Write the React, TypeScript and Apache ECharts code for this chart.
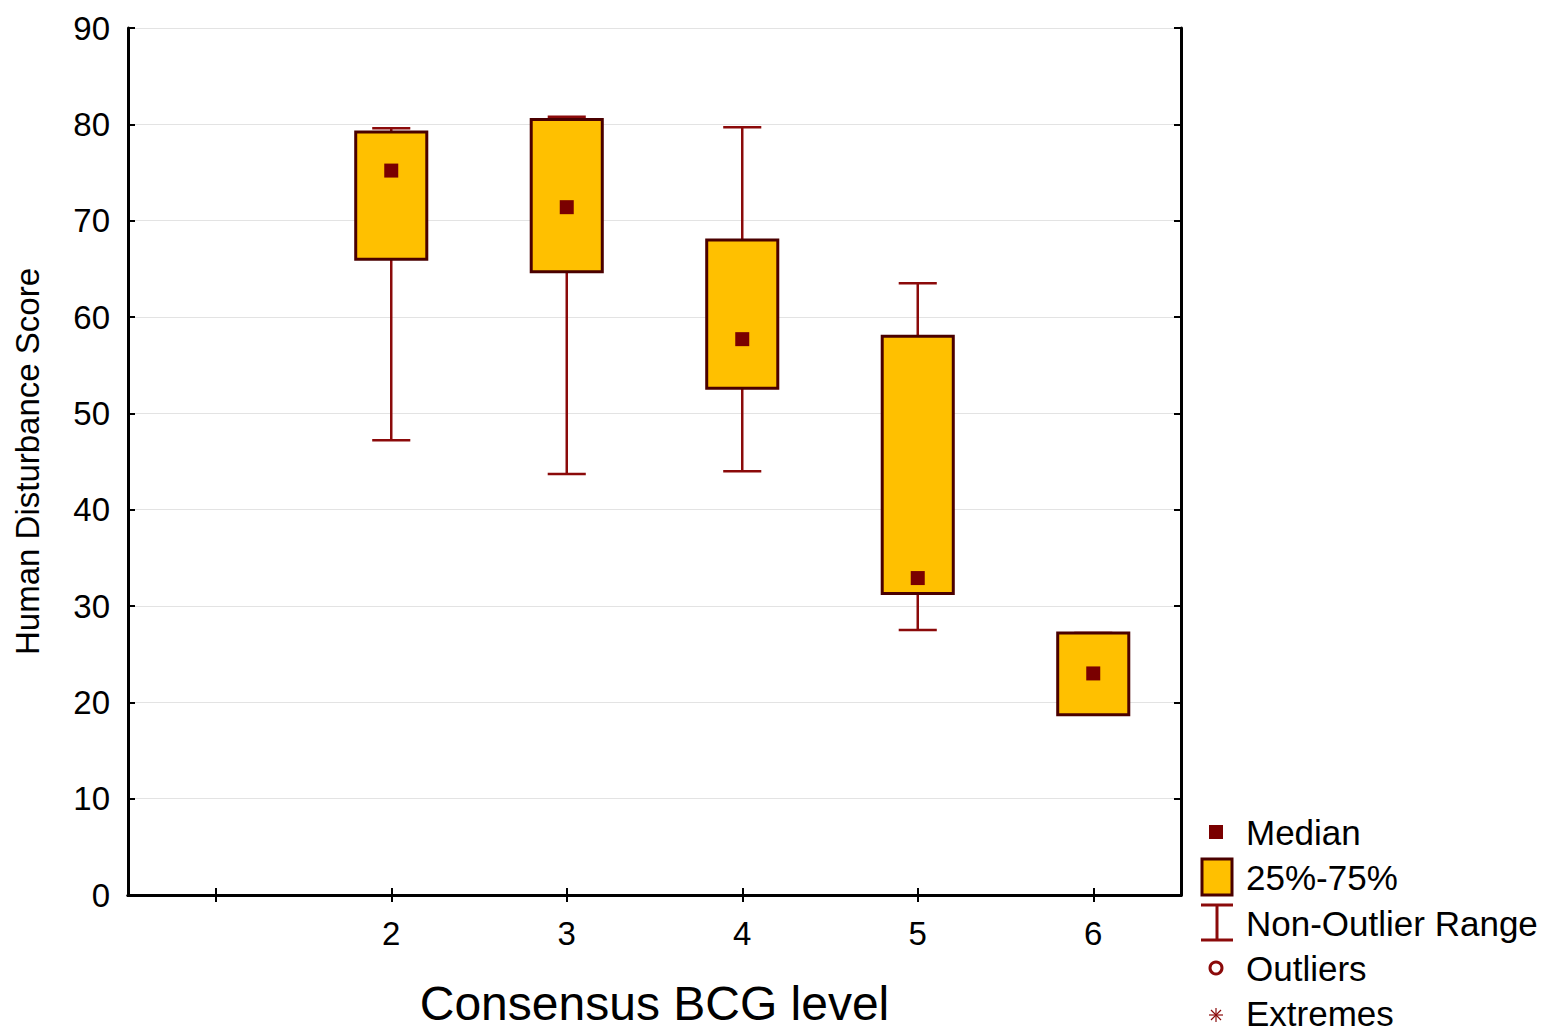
import React, { useEffect, useRef } from "react";
import * as echarts from "echarts";

const categories = ["", "2", "3", "4", "5", "6"];
const boxCategoryIndex = [1, 2, 3, 4, 5];
const whiskerLow = [47.2, 43.7, 44.0, 27.5, 18.7];
const quartile1 = [66.0, 64.7, 52.6, 31.3, 18.7];
const medians = [75.2, 71.4, 57.7, 32.9, 23.0];
const quartile3 = [79.2, 80.5, 68.0, 58.0, 27.2];
const whiskerHigh = [79.6, 80.8, 79.7, 63.5, 27.2];
const yTicks = { min: 0, max: 90, interval: 10 };
const legendLabels = ["Median", "25%-75%", "Non-Outlier Range", "Outliers", "Extremes"];

const FONT = "'Liberation Sans', Arial, Helvetica, sans-serif";
const BOX_FILL = "#FFC000";
const BOX_STROKE = "#4A0000";
const WHISKER = "#8B0A0A";
const MEDIAN = "#7A0000";

export default function App() {
  const ref = useRef<HTMLDivElement>(null);
  useEffect(() => {
    document.body.style.margin = "0";
    const chart = echarts.init(ref.current!, null, { renderer: "svg" });
    const data = boxCategoryIndex.map((c, i) => [
      c,
      whiskerLow[i],
      quartile1[i],
      medians[i],
      quartile3[i],
      whiskerHigh[i],
    ]);
    const axisLine = { show: true, lineStyle: { color: "#000", width: 3 } };
    const axisTick = { show: true, inside: true, length: 7, lineStyle: { color: "#000", width: 2 } };

    const legendYs = [832, 877, 923, 968, 1013];
    const legendGraphics: any[] = [
      { type: "rect", shape: { x: 1209, y: 825, width: 14, height: 14 }, style: { fill: MEDIAN } },
      {
        type: "rect",
        shape: { x: 1202, y: 859, width: 30, height: 36 },
        style: { fill: BOX_FILL, stroke: BOX_STROKE, lineWidth: 3 },
      },
      { type: "line", shape: { x1: 1217, y1: 905, x2: 1217, y2: 940 }, style: { stroke: WHISKER, lineWidth: 3 } },
      { type: "line", shape: { x1: 1201, y1: 905, x2: 1233, y2: 905 }, style: { stroke: WHISKER, lineWidth: 3 } },
      { type: "line", shape: { x1: 1201, y1: 940, x2: 1233, y2: 940 }, style: { stroke: WHISKER, lineWidth: 3 } },
      {
        type: "circle",
        shape: { cx: 1216, cy: 968, r: 6 },
        style: { fill: "none", stroke: WHISKER, lineWidth: 3 },
      },
      { type: "line", shape: { x1: 1209, y1: 1015, x2: 1223, y2: 1015 }, style: { stroke: WHISKER, lineWidth: 1.2 } },
      { type: "line", shape: { x1: 1216, y1: 1008, x2: 1216, y2: 1022 }, style: { stroke: WHISKER, lineWidth: 1.2 } },
      { type: "line", shape: { x1: 1211, y1: 1010, x2: 1221, y2: 1020 }, style: { stroke: WHISKER, lineWidth: 1.2 } },
      { type: "line", shape: { x1: 1221, y1: 1010, x2: 1211, y2: 1020 }, style: { stroke: WHISKER, lineWidth: 1.2 } },
      ...legendLabels.map((t, i) => ({
        type: "text",
        x: 1246,
        y: legendYs[i],
        style: { text: t, fontSize: 35, fontFamily: FONT, fill: "#000", verticalAlign: "middle", align: "left" },
      })),
    ];

    chart.setOption({
      animation: false,
      backgroundColor: "#fff",
      grid: { left: 128, right: 366, top: 28, bottom: 134, containLabel: false },
      xAxis: [
        {
          type: "category",
          data: categories,
          position: "bottom",
          boundaryGap: true,
          axisLine,
          axisTick: { ...axisTick, alignWithLabel: true, interval: 0 },
          axisLabel: { fontSize: 33, fontFamily: FONT, color: "#000", margin: 22, interval: 0 },
          splitLine: { show: false },
          name: "Consensus BCG level",
          nameLocation: "middle",
          nameGap: 84,
          nameTextStyle: { fontSize: 48, fontFamily: FONT, color: "#000" },
        },
        {
          type: "category",
          data: categories,
          position: "top",
          boundaryGap: true,
          axisLine,
          axisTick: { ...axisTick, alignWithLabel: true, interval: 0 },
          axisLabel: { show: false },
          splitLine: { show: false },
        },
      ],
      yAxis: [
        {
          type: "value",
          min: yTicks.min,
          max: yTicks.max,
          interval: yTicks.interval,
          position: "left",
          axisLine,
          axisTick,
          axisLabel: { fontSize: 33, fontFamily: FONT, color: "#000", margin: 18 },
          splitLine: { show: true, lineStyle: { color: "#e3e3e3", width: 1 } },
          name: "Human Disturbance Score",
          nameLocation: "middle",
          nameGap: 84,
          nameTextStyle: { fontSize: 33, fontFamily: FONT, color: "#000" },
        },
        {
          type: "value",
          min: yTicks.min,
          max: yTicks.max,
          interval: yTicks.interval,
          position: "right",
          axisLine,
          axisTick,
          axisLabel: { show: false },
          splitLine: { show: false },
        },
      ],
      series: [
        {
          type: "custom",
          xAxisIndex: 0,
          yAxisIndex: 0,
          data,
          renderItem: (params: any, api: any) => {
            const c = api.value(0);
            const band = api.size([1, 0])[0];
            const x = api.coord([c, 0])[0];
            const yMin = api.coord([c, api.value(1)])[1];
            const yQ1 = api.coord([c, api.value(2)])[1];
            const yMed = api.coord([c, api.value(3)])[1];
            const yQ3 = api.coord([c, api.value(4)])[1];
            const yMax = api.coord([c, api.value(5)])[1];
            const bw = band * 0.405;
            const cw = band * 0.217;
            const ws = { stroke: WHISKER, lineWidth: 2.5 };
            return {
              type: "group",
              children: [
                { type: "line", shape: { x1: x, y1: yMin, x2: x, y2: yQ1 }, style: ws },
                { type: "line", shape: { x1: x, y1: yQ3, x2: x, y2: yMax }, style: ws },
                { type: "line", shape: { x1: x - cw / 2, y1: yMin, x2: x + cw / 2, y2: yMin }, style: ws },
                { type: "line", shape: { x1: x - cw / 2, y1: yMax, x2: x + cw / 2, y2: yMax }, style: ws },
                {
                  type: "rect",
                  shape: { x: x - bw / 2, y: yQ3, width: bw, height: yQ1 - yQ3 },
                  style: { fill: BOX_FILL, stroke: BOX_STROKE, lineWidth: 3 },
                },
                {
                  type: "rect",
                  shape: { x: x - 7, y: yMed - 7, width: 14, height: 14 },
                  style: { fill: MEDIAN },
                },
              ],
            };
          },
        },
      ],
      graphic: legendGraphics,
    });
    return () => chart.dispose();
  }, []);
  return (
    <div
      ref={ref}
      style={{ position: "fixed", left: 0, top: 0, width: 1547, height: 1032, background: "#fff" }}
    />
  );
}
